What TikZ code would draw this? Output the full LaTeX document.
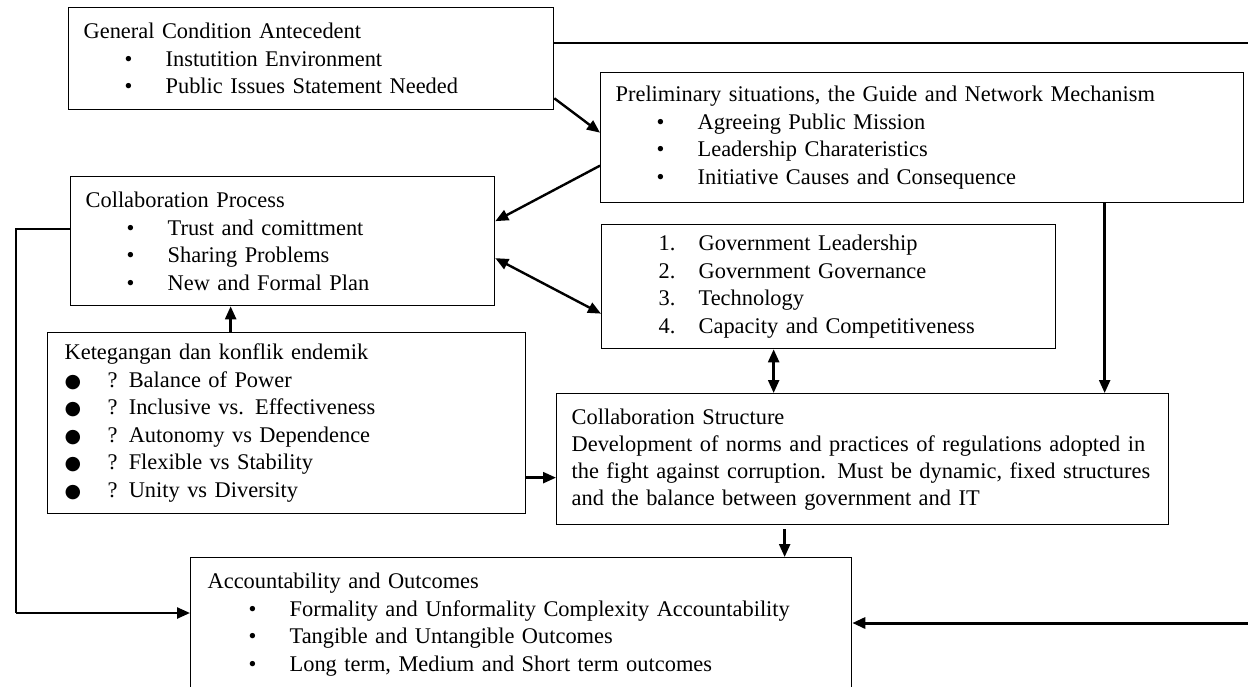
\documentclass[tikz,border=0pt]{standalone}
\usepackage{fontspec}
\setmainfont{Liberation Serif}
\newfontfamily\symfont{DejaVu Sans}
\usetikzlibrary{arrows.meta}

% list lines inside the boxes
\newcommand{\bitem}[1]{\hspace*{41pt}\makebox[41pt][l]{\textbullet}#1}
\newcommand{\nitem}[2]{\hspace*{42pt}\makebox[40pt][l]{#1.}#2}
\newcommand{\ditem}[1]{\makebox[43pt][l]{{\symfont\fontsize{19}{19}\selectfont ●}}#1}

\begin{document}
\begin{tikzpicture}[x=1pt, y=-1pt,
  box/.style={draw, line width=1.3pt, anchor=north west, inner xsep=15pt, inner ysep=0pt,
              align=left, font=\fontsize{22.4}{27.5}\selectfont},
  arr/.style={-{Triangle[length=13pt,width=11pt]}, line width=2.4pt},
  darr/.style={{Triangle[length=13pt,width=11pt]}-{Triangle[length=13pt,width=11pt]}, line width=2.4pt}]

 % Frame
 \clip (0,0) rectangle (1248,686);
 \fill[white] (0,0) rectangle (1248,686);

 % Boxes
 \node[box, text width=455pt, minimum height=102pt] (gen) at (68,7)
   {General Condition Antecedent\\ \bitem{Instutition Environment}\\ \bitem{Public Issues Statement Needed}};
 \node[box, text width=613pt, minimum height=130pt] (prelim) at (600,72)
   {Preliminary situations, the Guide and Network Mechanism\\ \bitem{Agreeing Public Mission}\\
    \bitem{Leadership Charateristics}\\ \bitem{Initiative Causes and Consequence}};
 \node[box, text width=394pt, minimum height=129pt] (proc) at (70,176)
   {Collaboration Process\\ \bitem{Trust and comittment}\\ \bitem{Sharing Problems}\\ \bitem{New and Formal Plan}};
 \node[box, text width=424pt, minimum height=124pt] (gov) at (601,224)
   {\nitem{1}{Government Leadership}\\ \nitem{2}{Government Governance}\\
    \nitem{3}{Technology}\\ \nitem{4}{Capacity and Competitiveness}};
 \node[box, inner xsep=17pt, text width=444pt, minimum height=181pt] (tens) at (47,332)
   {Ketegangan dan konflik endemik\\ \ditem{? Balance of Power}\\ \ditem{? Inclusive vs. Effectiveness}\\
    \ditem{? Autonomy vs Dependence}\\ \ditem{? Flexible vs Stability}\\ \ditem{? Unity vs Diversity}};
 \node[box, inner xsep=15pt, text width=582pt, minimum height=131pt, font=\fontsize{22.4}{27}\selectfont] (struct) at (556,393)
   {Collaboration Structure\\ \mbox{Development of norms and practices of regulations adopted in}\\
    \mbox{the fight against corruption. Must be dynamic, fixed structures}\\ \mbox{and the balance between government and IT}};
 \node[box, inner xsep=17pt, text width=627pt, minimum height=134pt] (acc) at (190,557)
   {Accountability and Outcomes\\ \bitem{Formality and Unformality Complexity Accountability}\\
    \bitem{Tangible and Untangible Outcomes}\\ \bitem{Long term, Medium and Short term outcomes}};

 % Points pour les fleches
 \coordinate (topR) at (1248,43);
 \coordinate (rgtB) at (1248,623);
 \coordinate (lftT) at (16,229);
 \coordinate (lftB) at (16,613);
 \coordinate (fc) at ([xshift=-56pt]tens.north);
 \coordinate (fg) at ([yshift=-54.5pt]tens.east);
 \coordinate (dg) at ([xshift=-55pt]gov.south);
 \coordinate (bg) at ([xshift=182.5pt]prelim.south);
 \coordinate (ge) at ([xshift=-78pt]struct.south);

 % Arrows
 \draw[line width=1.1pt] (topR -| gen.east) -- (topR);
 \draw[arr] ([yshift=12pt]gen.south east) -- ([yshift=5pt]prelim.west);
 \draw[arr] ([yshift=-28pt]prelim.west) -- ([yshift=20pt]proc.east);
 \draw[darr] ([yshift=-17pt]proc.east) -- ([yshift=-27pt]gov.west);
 \draw[arr] (fc) -- (fc |- proc.south);
 \draw[arr] (fg) -- (fg -| struct.west);
 \draw[darr] (dg) -- (dg |- struct.north);
 \draw[arr] (bg) -- (bg |- struct.north);
 \draw[arr] ([yshift=-4pt]ge) -- (ge |- acc.north);
 \draw[line width=1.1pt] (lftT -| proc.west) -- (lftT) -- (lftB);
 \draw[arr] (lftB) -- (lftB -| acc.west);
 \draw[arr, line width=3pt] (rgtB) -- (rgtB -| acc.east);

\end{tikzpicture}
\end{document}
